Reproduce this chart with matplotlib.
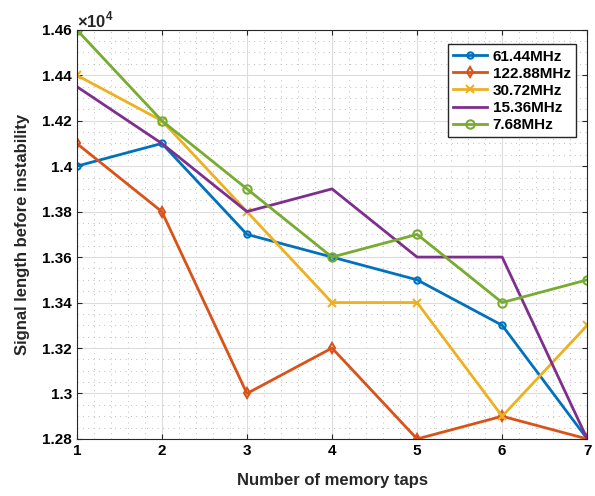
import matplotlib.pyplot as plt
from matplotlib.ticker import MultipleLocator, FuncFormatter

plt.rcParams['font.family'] = ['Liberation Sans', 'DejaVu Sans']
plt.rcParams['font.weight'] = 'bold'
plt.rcParams['mathtext.fontset'] = 'custom'
plt.rcParams['mathtext.rm'] = 'Liberation Sans'

taps = [1, 2, 3, 4, 5, 6, 7]
s61 = [1.40e4, 1.41e4, 1.37e4, 1.36e4, 1.35e4, 1.33e4, 1.28e4]
s122 = [1.41e4, 1.38e4, 1.30e4, 1.32e4, 1.28e4, 1.29e4, 1.28e4]
s30 = [1.44e4, 1.42e4, 1.38e4, 1.34e4, 1.34e4, 1.29e4, 1.33e4]
s15 = [1.435e4, 1.41e4, 1.38e4, 1.39e4, 1.36e4, 1.36e4, 1.28e4]
s7 = [1.46e4, 1.42e4, 1.39e4, 1.36e4, 1.37e4, 1.34e4, 1.35e4]
labels = ['61.44MHz', '122.88MHz', '30.72MHz', '15.36MHz', '7.68MHz']

fig = plt.figure(figsize=(5.95, 4.96), dpi=100)
ax = fig.add_axes([0.129, 0.115, 0.858, 0.825])

ax.plot(taps, s61, color='#0072BD', lw=2, marker='o', ms=4.5, mfc='none', mew=1.5, label=labels[0])
ax.plot(taps, s122, color='#D95319', lw=2, marker='d', ms=5.5, mfc='none', mew=1.5, label=labels[1])
ax.plot(taps, s30, color='#EDB120', lw=2, marker='x', ms=5.5, mew=1.5, label=labels[2])
ax.plot(taps, s15, color='#7E2F8E', lw=2, label=labels[3])
ax.plot(taps, s7, color='#77AC30', lw=2, marker='o', ms=6, mfc='none', mew=1.5, label=labels[4])

ax.set_xlim(1, 7)
ax.set_ylim(1.28e4, 1.46e4)
ax.xaxis.set_major_locator(MultipleLocator(1))
ax.xaxis.set_minor_locator(MultipleLocator(0.2))
ax.yaxis.set_major_locator(MultipleLocator(200))
ax.yaxis.set_minor_locator(MultipleLocator(50))
ax.yaxis.set_major_formatter(FuncFormatter(lambda v, p: f"{v / 1e4:g}"))
ax.grid(which='major', color='#dcdcdc', lw=0.8)
ax.grid(which='minor', color='#bdbdbd', lw=0.7, ls=(0, (1, 4.5)))
ax.tick_params(which='both', direction='in', top=True, right=True, labelsize=11, color='#262626')
ax.tick_params(which='minor', length=0)
for sp in ax.spines.values():
    sp.set_color('#262626')
ax.set_axisbelow(True)
ax.text(0, 1.006, r'$\times10^4$', transform=ax.transAxes, fontsize=12, color='#262626')

ax.set_xlabel('Number of memory taps', fontsize=12, fontweight='bold', color='#262626', labelpad=11)
ax.set_ylabel('Signal length before instability', fontsize=12, fontweight='bold', color='#262626', labelpad=9)
ax.legend(loc='upper right', fontsize=11, frameon=True, fancybox=False, edgecolor='#262626',
          framealpha=1, handlelength=2.2, handletextpad=0.4, borderpad=0.35, labelspacing=0.2,
          bbox_to_anchor=(0.993, 0.983))

fig.savefig('out.png', dpi=100)
